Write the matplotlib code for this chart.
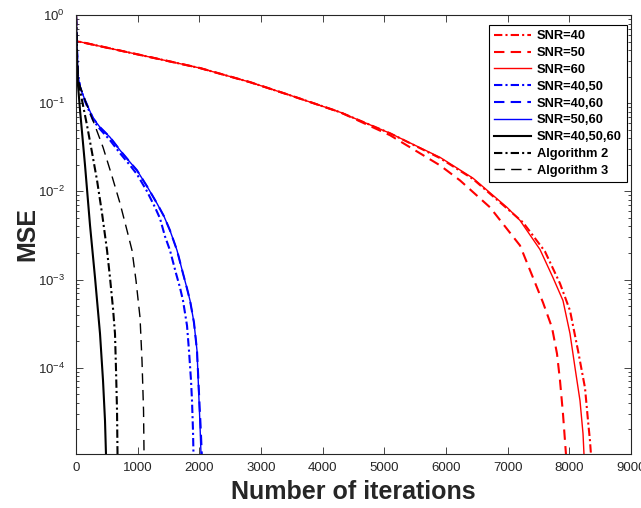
import numpy as np
import matplotlib
matplotlib.use("Agg")
import matplotlib.pyplot as plt

plt.rcParams["font.family"] = ["Liberation Sans", "DejaVu Sans"]
plt.rcParams["mathtext.fontset"] = "custom"
plt.rcParams["mathtext.rm"] = "Liberation Sans"

# values (iteration, MSE)
snr40_x = [0, 8, 1200, 2011, 2822, 3470, 4281, 5092, 5903, 6438, 6989, 7249, 7605, 7849, 8011, 8141, 8254, 8303, 8335, 8351]
snr40_y = [0.98, 0.506, 0.333, 0.25, 0.173, 0.123, 0.079, 0.0456, 0.0238, 0.0138, 0.00640, 0.00444, 0.00208, 9.0e-4, 4.44e-4, 1.56e-4, 5.9e-5, 2.5e-5, 1.48e-5, 1.03e-5]

snr50_x = [0, 8, 1200, 2011, 2822, 3470, 4281, 5092, 5903, 6227, 6714, 7200, 7411, 7573, 7719, 7800, 7849, 7897, 7946]
snr50_y = [0.98, 0.506, 0.333, 0.25, 0.173, 0.123, 0.079, 0.0433, 0.0197, 0.0133, 0.00658, 0.00243, 0.00105, 5.48e-4, 2.85e-4, 1.44e-4, 7.1e-5, 3.0e-5, 1.03e-5]

snr60_x = [0, 8, 1200, 2011, 2822, 3470, 4281, 5092, 5903, 6438, 6989, 7200, 7524, 7735, 7897, 8011, 8092, 8173, 8222, 8238]
snr60_y = [0.98, 0.506, 0.333, 0.25, 0.173, 0.123, 0.079, 0.0456, 0.0243, 0.0141, 0.00658, 0.00468, 0.00219, 0.00105, 5.77e-4, 2.43e-4, 1.0e-4, 4.22e-5, 1.78e-5, 1.03e-5]

snr4050_x = [0, 16, 32, 65, 146, 276, 389, 551, 714, 876, 989, 1151, 1281, 1362, 1443, 1524, 1622, 1686, 1735, 1800, 1832, 1865, 1881, 1897, 1905]
snr4050_y = [0.98, 0.4, 0.208, 0.152, 0.105, 0.0641, 0.0507, 0.038, 0.027, 0.0197, 0.0156, 0.01, 0.00658, 0.00493, 0.00308, 0.00214, 0.00117, 8.1e-4, 5.77e-4, 3.0e-4, 1.56e-4, 7.1e-5, 4.2e-5, 1.92e-5, 1.03e-5]

snr4060_x = [0, 16, 32, 65, 146, 276, 389, 551, 714, 876, 989, 1151, 1313, 1427, 1524, 1638, 1735, 1800, 1849, 1913, 1962, 2000, 2020, 2040]
snr4060_y = [0.98, 0.4, 0.208, 0.152, 0.108, 0.0676, 0.0533, 0.0411, 0.0292, 0.0214, 0.0173, 0.0114, 0.0073, 0.0052, 0.0036, 0.00214, 0.00117, 7.9e-4, 5.77e-4, 3.24e-4, 1.56e-4, 4.2e-5, 2.19e-5, 1.03e-5]

snr5060_x = [0, 16, 32, 65, 146, 276, 389, 551, 714, 876, 989, 1151, 1313, 1427, 1524, 1638, 1735, 1800, 1849, 1913, 1962, 1995, 2011, 2027]
snr5060_y = [0.98, 0.4, 0.208, 0.152, 0.108, 0.0676, 0.0533, 0.0411, 0.0292, 0.0214, 0.0173, 0.0114, 0.0073, 0.0052, 0.0036, 0.00214, 0.00117, 7.9e-4, 5.77e-4, 3.24e-4, 1.56e-4, 4.2e-5, 2.19e-5, 1.03e-5]

snr405060_x = [0, 16, 32, 65, 146, 227, 308, 389, 438, 470, 486]
snr405060_y = [0.98, 0.308, 0.16, 0.0832, 0.0197, 0.00411, 0.00105, 2.43e-4, 7.1e-5, 2.5e-5, 1.03e-5]

alg2_x = [0, 16, 32, 97, 178, 259, 341, 422, 503, 551, 600, 632, 649, 665, 673]
alg2_y = [0.98, 0.35, 0.182, 0.108, 0.0562, 0.0277, 0.0133, 0.00562, 0.00214, 0.00105, 4.68e-4, 2.43e-4, 9.2e-5, 3.24e-5, 1.03e-5]

alg3_x = [0, 16, 32, 146, 292, 438, 584, 714, 827, 908, 973, 1038, 1070, 1095, 1103]
alg3_y = [0.98, 0.38, 0.182, 0.108, 0.0593, 0.0316, 0.0148, 0.0073, 0.0036, 0.00214, 9.7e-4, 3.7e-4, 1.2e-4, 3.24e-5, 1.03e-5]

xticks = np.arange(0, 9001, 1000)
yticks = [1e-4, 1e-3, 1e-2, 1e-1, 1e0]

fig = plt.figure(figsize=(6.41, 5.08), dpi=100)
ax = fig.add_axes([0.1186, 0.1063, 0.8658, 0.8642])

dd = (0, (4, 1.5, 1, 1.5))       # dash-dot at lw 1.5
da = (0, (5, 3))                 # dashed at lw 1.5
da_thin = (0, (7.5, 4.5))        # same dash length at lw 1.0
ax.plot(snr40_x, snr40_y, color="red", lw=1.5, ls=dd, label="SNR=40")
ax.plot(snr50_x, snr50_y, color="red", lw=1.5, ls=da, label="SNR=50")
ax.plot(snr60_x, snr60_y, color="red", lw=1.0, ls="-", label="SNR=60")
ax.plot(snr4050_x, snr4050_y, color="blue", lw=1.5, ls=dd, label="SNR=40,50")
ax.plot(snr4060_x, snr4060_y, color="blue", lw=1.5, ls=da, label="SNR=40,60")
ax.plot(snr5060_x, snr5060_y, color="blue", lw=1.0, ls="-", label="SNR=50,60")
ax.plot(snr405060_x, snr405060_y, color="black", lw=1.5, ls="-", label="SNR=40,50,60")
ax.plot(alg2_x, alg2_y, color="black", lw=1.5, ls=dd, label="Algorithm 2")
ax.plot(alg3_x, alg3_y, color="black", lw=1.0, ls=da_thin, label="Algorithm 3")

ax.set_yscale("log")
ax.set_xlim(0, 9000)
ax.set_ylim(1.05e-5, 1)
ax.set_xticks(xticks)
ax.set_yticks(yticks)
ax.tick_params(which="both", direction="in", top=True, right=True,
               labelsize=9.5, colors="#262626", width=0.6)
ax.tick_params(which="major", length=5, pad=6)
ax.tick_params(axis="y", which="major", pad=8)
ax.tick_params(which="minor", length=2.5)
for s in ax.spines.values():
    s.set_linewidth(0.8)
    s.set_color("#262626")

ax.set_xlabel("Number of iterations", fontsize=18, fontweight="bold", color="#262626", labelpad=4)
ax.set_ylabel("MSE", fontsize=18, fontweight="bold", color="#262626", labelpad=-1)

leg = ax.legend(loc="upper right", bbox_to_anchor=(0.9928, 0.977), borderaxespad=0,
                prop={"weight": "bold", "size": 9.3}, fancybox=False,
                edgecolor="black", framealpha=1, handlelength=2.85,
                borderpad=0.4, labelspacing=0.37, handletextpad=0.45)
leg.get_frame().set_linewidth(0.8)

fig.savefig("out.png", dpi=100)
